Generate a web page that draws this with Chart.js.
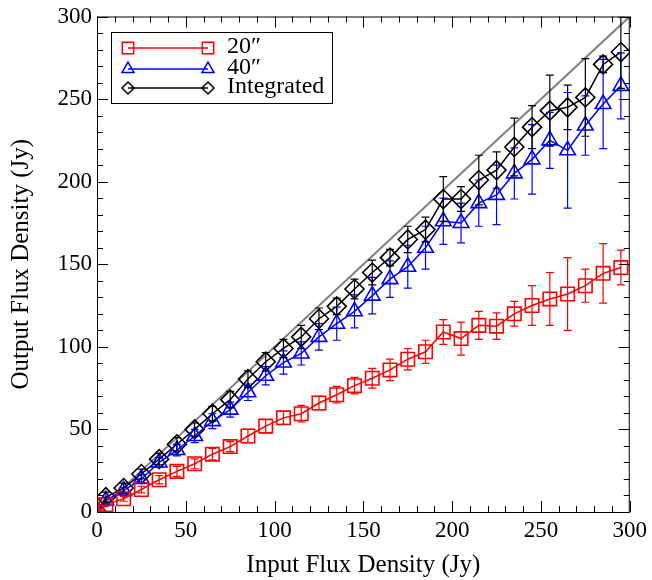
<!DOCTYPE html>
<html>
<head>
<meta charset="utf-8">
<script src="https://cdn.jsdelivr.net/npm/chart.js@4.4.0/dist/chart.umd.min.js"></script>
<style>
  html, body { margin: 0; padding: 0; background: #fff; }
  #wrap { width: 652px; height: 580px; position: relative; }
</style>
</head>
<body>
<div id="wrap"><canvas id="fluxChart"></canvas></div>
<script>
// Input flux density (Jy)
const inputFlux = [0, 5, 15, 25, 35, 45, 55, 65, 75, 85, 95, 105, 115, 125, 135, 145,
  155, 165, 175, 185, 195, 205, 215, 225, 235, 245, 255, 265, 275, 285, 295];

// Output flux density (Jy) per aperture
const flux20 = [0, 4.5, 8, 13.6, 19.5, 24.6, 29.2, 35, 39.6, 46, 52, 57, 59.5, 66, 71, 76.5,
  81, 86, 92.5, 97, 109, 105, 113, 112.5, 120, 125, 129, 132, 137, 144.5, 148];
const flux40 = [0, 7, 13, 20, 30, 37.5, 46, 55, 62, 72.5, 82.5, 90.5, 96, 106, 114, 121.5,
  131, 141, 148.5, 160, 176, 175, 187, 192, 205, 213.5, 225, 219, 234, 247, 258];
const fluxInt = [0, 9, 14.5, 23, 32, 41, 50, 59.5, 68, 80.5, 91, 99, 106, 117, 124.5, 135,
  145, 154, 165, 171, 189.5, 189.5, 201, 207, 221, 233, 243, 245, 251, 271, 278.5];

// 1-sigma errors
const err20 = [0, 1, 1.5, 2, 2.5, 3, 3, 3.5, 3, 4, 4, 4, 5, 4, 5, 5,
  6, 6.5, 6.5, 7, 7.5, 10, 8.5, 8, 7.5, 12, 16, 22, 10, 18, 10.5];
const err40 = [0, 2, 2, 2.5, 3, 3.5, 4, 4.5, 4.5, 5, 5.5, 7, 7, 8, 10, 10,
  11, 11, 13, 13, 14, 12, 14, 18, 15.5, 21, 17, 35, 18, 27, 20];
const errInt = [0, 3, 3, 3, 3.5, 4, 4, 4.5, 5, 5, 5.5, 5.5, 7, 6.5, 5, 6,
  7.5, 5, 8, 7.5, 13.5, 7.5, 15, 11, 17.5, 13, 21.5, 13.5, 23.5, 5, 22];

const seriesLabels = ["20\u2033", "40\u2033", "Integrated"];
const axisTicks = [0, 50, 100, 150, 200, 250, 300];
const unityLine = [0, 300];

const serif = "'Liberation Serif', 'DejaVu Serif', serif";

function pts(ys) {
  return inputFlux.map((x, i) => ({ x: x, y: ys[i] }));
}

function series(label, ys, errs, color, style, radius) {
  return {
    label: label,
    data: pts(ys),
    errors: errs,
    borderColor: color,
    backgroundColor: "transparent",
    borderWidth: 1.5,
    pointStyle: style,
    pointRadius: radius,
    pointBorderWidth: 1.6,
    pointBorderColor: color,
    pointBackgroundColor: "transparent",
    showLine: true,
    tension: 0,
    clip: 0,
    order: 1
  };
}

// error bars, drawn with the dataset colour
const errorBars = {
  id: "errorBars",
  afterDatasetsDraw(chart) {
    const { ctx, chartArea, scales } = chart;
    ctx.save();
    ctx.beginPath();
    ctx.rect(chartArea.left, chartArea.top, chartArea.right - chartArea.left, chartArea.bottom - chartArea.top);
    ctx.clip();
    chart.data.datasets.forEach(ds => {
      if (!ds.errors) return;
      ctx.strokeStyle = ds.borderColor;
      ctx.lineWidth = 1.2;
      ds.data.forEach((p, i) => {
        const e = ds.errors[i];
        if (!e) return;
        const x = scales.x.getPixelForValue(p.x);
        const y1 = scales.y.getPixelForValue(p.y - e);
        const y2 = scales.y.getPixelForValue(p.y + e);
        ctx.beginPath();
        ctx.moveTo(x, y1); ctx.lineTo(x, y2);
        ctx.moveTo(x - 4, y1); ctx.lineTo(x + 4, y1);
        ctx.moveTo(x - 4, y2); ctx.lineTo(x + 4, y2);
        ctx.stroke();
      });
    });
    ctx.restore();
  }
};

// box frame with inward ticks on every side
const frameTicks = {
  id: "frameTicks",
  afterDraw(chart) {
    const { ctx, chartArea: a, scales } = chart;
    ctx.save();
    ctx.strokeStyle = "#000";
    ctx.lineWidth = 1;
    ctx.strokeRect(a.left + 0.5, a.top + 0.5, a.right - a.left - 1, a.bottom - a.top);
    ctx.beginPath();
    for (let v = 0; v <= 300; v += 10) {
      const len = v % 50 === 0 ? 11 : 6;
      const x = Math.round(scales.x.getPixelForValue(v)) + 0.5;
      ctx.moveTo(x, a.bottom); ctx.lineTo(x, a.bottom - len);
      ctx.moveTo(x, a.top); ctx.lineTo(x, a.top + len);
      const y = Math.round(scales.y.getPixelForValue(v)) + 0.5;
      ctx.moveTo(a.left, y); ctx.lineTo(a.left + len, y);
      ctx.moveTo(a.right, y); ctx.lineTo(a.right - len, y);
    }
    ctx.stroke();
    ctx.restore();
  }
};

// legend box: line with a marker at each end, then the label
const boxLegend = {
  id: "boxLegend",
  afterDraw(chart) {
    const ctx = chart.ctx;
    const box = { x: 111, y: 32, w: 221, h: 71 };
    ctx.save();
    ctx.fillStyle = "#fff";
    ctx.fillRect(box.x, box.y, box.w, box.h);
    ctx.strokeStyle = "#000";
    ctx.lineWidth = 1;
    ctx.strokeRect(box.x + 0.5, box.y + 0.5, box.w, box.h);
    const rows = [48, 69, 88];
    const sizes = [8, 7, 6];
    chart.data.datasets.filter(d => d.errors).forEach((ds, i) => {
      const y = rows[i];
      ctx.strokeStyle = ds.borderColor;
      ctx.lineWidth = 1.5;
      ctx.beginPath();
      ctx.moveTo(128, y); ctx.lineTo(208, y);
      ctx.stroke();
      const opts = { pointStyle: ds.pointStyle, radius: sizes[i], borderWidth: 1.6, rotation: 0 };
      ctx.fillStyle = "transparent";
      [128, 208].forEach(px => {
        ctx.beginPath();
        Chart.helpers.drawPoint(ctx, opts, px, y);
      });
      ctx.fillStyle = "#000";
      ctx.font = "24px " + serif;
      ctx.textBaseline = "middle";
      ctx.textAlign = "left";
      ctx.fillText(ds.label, 227, y - 1);
    });
    ctx.restore();
  }
};

const ctx = document.getElementById("fluxChart").getContext("2d");
new Chart(ctx, {
  type: "scatter",
  data: {
    datasets: [
      series(seriesLabels[0], flux20, err20, "#ff0000", "rect", 9.5),
      series(seriesLabels[1], flux40, err40, "#0000ff", "triangle", 9),
      series(seriesLabels[2], fluxInt, errInt, "#000000", "rectRot", 9.5),
      {
        label: "unity",
        data: unityLine.map(v => ({ x: v, y: v })),
        borderColor: "#808080",
        borderWidth: 2,
        pointRadius: 0,
        showLine: true,
        order: 5
      }
    ]
  },
  options: {
    responsive: true,
    maintainAspectRatio: false,
    animation: false,
    layout: { padding: { top: 8, right: 22, left: 0, bottom: 0 } },
    plugins: {
      legend: { display: false },
      tooltip: { enabled: false }
    },
    scales: {
      x: {
        type: "linear",
        min: 0,
        max: 300,
        afterFit: s => { s.height = 68; },
        afterBuildTicks: s => { s.ticks = axisTicks.map(v => ({ value: v })); },
        grid: { display: false, drawTicks: false },
        border: { display: false },
        ticks: { color: "#000", font: { family: serif, size: 23 }, padding: 5, maxRotation: 0 },
        title: { display: true, text: "Input Flux Density (Jy)", color: "#000", font: { family: serif, size: 25 }, padding: { top: 0, bottom: 0 } }
      },
      y: {
        type: "linear",
        min: 0,
        max: 300,
        afterFit: s => { s.width = 97; },
        afterBuildTicks: s => { s.ticks = axisTicks.map(v => ({ value: v })); },
        grid: { display: false, drawTicks: false },
        border: { display: false },
        ticks: { color: "#000", font: { family: serif, size: 23, lineHeight: 1 }, padding: 5 },
        title: { display: true, text: "Output Flux Density (Jy)", color: "#000", font: { family: serif, size: 25 }, padding: { top: 6, bottom: 0 } }
      }
    }
  },
  plugins: [errorBars, frameTicks, boxLegend]
});
</script>
</body>
</html>
